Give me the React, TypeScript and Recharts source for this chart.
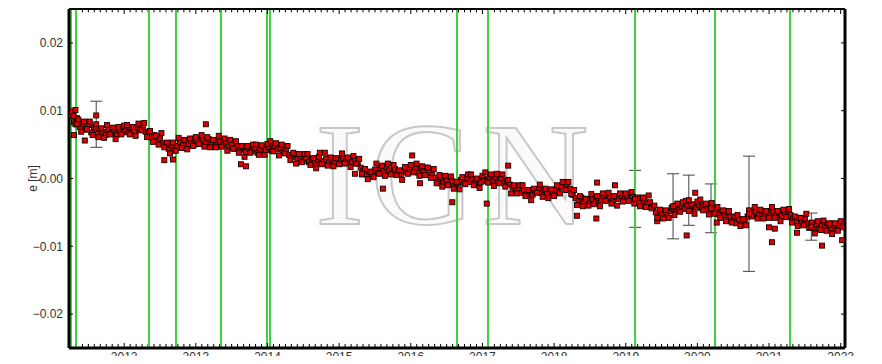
import {
  ErrorBar,
  ReferenceLine,
  Scatter,
  ScatterChart,
  XAxis,
  YAxis,
} from "recharts";

// East component (mm), sampled every 0.04 yr starting at the given epoch
const e2011 = [9.4, 8.3, 8.9, 7.6, 8.1, 7.2, 7.9, 6.8, 7.5, 6.6, 7.3, 6.9, 6.4, 7.2, 6.7, 7.1, 6.5, 7.0, 6.8];
const e2012 = [7.1, 6.8, 7.4, 7.0, 7.6, 7.2, 7.5, 6.9, 6.8, 6.1, 6.4, 5.5, 5.9, 5.2, 5.0, 4.4, 4.9, 4.1, 4.8, 5.4, 4.9, 5.6, 5.1, 5.5, 5.0];
const e2013 = [5.6, 5.1, 5.7, 5.3, 5.8, 5.2, 5.6, 4.9, 5.4, 5.0, 5.5, 4.7, 5.1, 4.4, 4.8, 4.2, 4.6, 3.9, 4.5, 4.0, 4.4, 3.8, 4.3, 4.7, 4.2];
const e2014 = [4.6, 4.1, 4.8, 4.3, 4.5, 3.9, 4.2, 3.5, 3.2, 3.6, 2.9, 3.1, 2.6, 3.0, 2.4, 2.8, 2.3, 2.7, 2.2, 2.6, 2.9, 2.4, 2.8, 2.5, 2.9];
const e2015 = [2.6, 3.0, 2.5, 2.9, 2.4, 2.8, 2.2, 1.6, 1.1, 0.6, 1.0, 0.4, 1.3, 0.8, 1.5, 1.1, 1.6, 1.2, 0.8, 1.4, 1.0, 0.6, 1.2, 0.9, 1.4];
const e2016 = [1.0, 1.4, 0.9, 1.5, 1.1, 1.6, 1.0, 0.5, 0.1, -0.4, 0.2, -0.6, -0.2, -0.9, -0.4, -1.1, -0.7, -0.2, -0.6, 0.0, -0.5, -0.1, -0.6, -0.2, -0.5];
const e2017 = [-0.1, -0.4, 0.2, -0.3, 0.1, -0.4, -0.1, -0.6, -0.3, -0.9, -1.3, -1.8, -1.5, -2.1, -1.7, -2.3, -1.9, -2.4, -2.0, -1.6, -2.1, -1.7, -2.2, -1.8, -2.0];
const e2018 = [-1.7, -2.0, -1.2, -0.6, -0.8, -1.5, -2.4, -2.9, -3.3, -2.8, -3.5, -3.0, -3.6, -3.1, -3.4, -2.9, -3.2, -2.7, -3.1, -2.8, -3.2, -2.7, -3.0, -2.6, -3.1];
const e2019 = [-2.8, -3.2, -2.7, -3.1, -3.4, -2.9, -3.3, -3.7, -3.5, -4.2, -5.0, -5.6, -5.2, -5.8, -5.3, -4.8, -4.5, -4.0, -4.6, -4.1, -4.5, -3.9, -4.4, -4.0, -4.3];
const e2020 = [-3.9, -4.4, -4.0, -4.5, -4.1, -4.6, -4.9, -5.3, -4.8, -5.4, -5.0, -5.7, -6.2, -6.6, -6.0, -6.7, -6.1, -5.6, -5.1, -5.5, -4.9, -5.3, -4.8, -5.2, -4.9];
const e2021 = [-5.3, -4.9, -5.4, -5.0, -5.5, -5.1, -5.6, -5.4, -5.9, -6.3, -5.8, -6.4, -6.0, -6.6, -6.9, -7.3, -6.8, -7.4, -6.9, -7.2, -6.7, -7.3, -6.9, -7.4, -7.0];
const e2022 = [-7.2];

// in-between solutions (mm), same 0.04 yr spacing, shifted by 0.02 yr
const f2011 = [9.8, 8.0, 8.7, 6.9, 8.4, 7.3, 8.4, 6.4, 7.6, 6.1, 7.4, 6.0, 7.9, 6.5, 7.5, 5.8, 7.6, 6.5, 7.8];
const f2012 = [7.9, 6.5, 7.6, 6.3, 8.1, 7.1, 8.2, 6.1, 7.0, 5.4, 6.3, 5.0, 6.7, 4.6, 5.3, 3.7, 5.3, 4.1, 6.0, 4.5, 5.7, 4.3, 5.9, 4.8, 6.1];
const f2013 = [5.1, 6.4, 4.7, 6.1, 4.6, 5.7, 4.6, 6.3, 4.7, 5.9, 4.1, 5.7, 4.4, 5.5, 3.8, 4.8, 3.2, 4.8, 3.8, 5.0, 5.0, 3.5, 4.9, 3.5, 5.1];
const f2014 = [5.5, 4.0, 5.2, 3.4, 5.0, 3.7, 4.8, 2.7, 3.8, 2.2, 3.6, 2.4, 3.6, 3.6, 2.0, 3.0, 1.5, 3.2, 2.1, 3.8, 1.9, 3.1, 1.8, 3.0, 2.1];
const f2015 = [3.7, 2.2, 3.1, 1.7, 3.3, 2.2, 2.9, 0.6, 1.4, -0.1, 1.0, 0.2, 2.2, 0.7, 1.9, 0.4, 2.2, 0.6, 2.0, 0.5, 1.2, -0.2, 1.7, 0.7, 2.0];
const f2016 = [0.9, 2.2, 0.4, 1.8, 0.5, 1.6, 0.1, 1.4, -0.7, 0.5, -1.2, 0.4, -1.0, 0.3, -1.5, -0.5, -1.6, 0.2, -0.8, 0.6, 0.6, -1.0, 0.0, -1.4, 0.4];
const f2017 = [0.9, -0.6, 0.6, -1.1, 0.7, -0.7, 0.6, -1.2, -0.2, -2.2, -1.0, -2.2, -1.0, -1.0, -2.6, -1.7, -3.2, -1.5, -2.1, -0.9, -2.7, -1.5, -2.9, -1.6, -2.6];
const f2018 = [-1.0, -2.2, -0.5, -1.7, -0.5, -2.3, -1.7, -3.9, -2.6, -4.1, -3.0, -4.0, -2.3, -3.8, -2.6, -4.1, -2.2, -3.3, -2.1, -3.7, -2.6, -4.0, -2.2, -3.4, -2.2];
const f2019 = [-3.3, -2.0, -3.7, -2.8, -4.1, -2.8, -4.2, -2.5, -4.4, -4.0, -6.3, -4.6, -5.9, -4.7, -5.8, -4.3, -5.4, -3.7, -4.9, -3.5, -3.3, -4.8, -3.8, -5.2, -3.4];
const f2020 = [-3.1, -4.7, -3.7, -5.3, -3.6, -5.2, -4.2, -5.8, -4.7, -6.3, -4.8, -6.5, -5.6, -5.4, -7.0, -6.0, -6.9, -4.7, -5.6, -4.2, -5.9, -4.6, -5.9, -4.8, -5.8];
const f2021 = [-4.2, -5.8, -4.8, -6.3, -4.6, -5.7, -4.5, -6.5, -5.6, -7.0, -5.8, -6.9, -5.2, -7.3, -6.5, -8.1, -6.3, -7.6, -6.2, -7.7, -6.6, -8.2, -6.6, -7.7, -6.3];

const yearSeries: [number, number[]][] = [
  [2011.26, e2011], [2012.02, e2012], [2013.02, e2013], [2014.02, e2014],
  [2015.02, e2015], [2016.02, e2016], [2017.02, e2017], [2018.02, e2018],
  [2019.02, e2019], [2020.02, e2020], [2021.02, e2021], [2022.02, e2022],
  [2011.28, f2011], [2012.04, f2012], [2013.04, f2013], [2014.04, f2014],
  [2015.04, f2015], [2016.04, f2016], [2017.04, f2017], [2018.04, f2018],
  [2019.04, f2019], [2020.04, f2020], [2021.04, f2021],
];
const STEP = 0.04;

// scattered single solutions (epoch, mm)
const outT = [2011.27, 2011.29, 2011.3, 2011.32, 2011.34, 2011.45, 2011.61, 2012.56, 2012.68, 2013.14, 2013.63, 2013.7, 2014.73, 2015.22, 2015.32, 2015.61, 2016.02, 2016.13, 2016.58, 2017.06, 2017.36, 2018.32, 2018.59, 2018.6, 2018.85, 2019.44, 2019.85, 2019.97, 2020.27, 2021.0, 2021.04, 2021.08, 2021.39, 2021.74, 2022.02];
const outE = [9.9, 9.2, 6.4, 10.1, 8.0, 5.6, 9.3, 2.7, 2.8, 8.0, 2.1, 1.8, 3.8, 0.7, 0.7, -1.5, 3.4, -0.7, -3.5, -3.7, 1.9, -5.5, -5.9, -0.6, -1.0, -5.8, -8.4, -2.1, -6.5, -7.2, -9.4, -7.4, -8.0, -9.9, -9.1];

// solutions with large formal errors (epoch, mm, sigma mm)
const errT = [2011.61, 2019.13, 2019.66, 2019.88, 2020.19, 2020.72, 2021.59];
const errE = [8.0, -3.0, -4.1, -3.2, -4.4, -5.2, -7.1];
const errS = [3.4, 4.2, 4.8, 3.7, 3.6, 8.5, 2.0];

// equipment changes
const offsets = [2011.258, 2011.328, 2012.347, 2012.723, 2013.351, 2013.993, 2014.035, 2016.645, 2017.078, 2019.13, 2020.246, 2021.293];

const yearTicks = [2012, 2013, 2014, 2015, 2016, 2017, 2018, 2019, 2020, 2021, 2022];
const eTicks = [-0.02, -0.01, 0, 0.01, 0.02];

const points = yearSeries.flatMap(([t0, vals]) =>
  vals.map((mm, i) => ({ t: t0 + i * STEP, e: mm / 1000 }))
);
const outliers = outT.map((t, i) => ({ t, e: outE[i] / 1000 }));
const errPoints = errT.map((t, i) => ({ t, e: errE[i] / 1000, err: errS[i] / 1000 }));

const monthTicks: number[] = [];
for (let m = 4; m <= 10 * 12 + 12; m++) {
  const t = 2011 + m / 12;
  if (t > 2022.05) break;
  if (Math.abs(t - Math.round(t)) > 0.01) monthTicks.push(t);
}

const X_DOMAIN = [2011.23, 2022.06];
const Y_DOMAIN = [-0.025, 0.025];
const FONT = "'Liberation Sans', Arial, sans-serif";
const tickStyle = { fontSize: 12, fill: "#333", fontFamily: FONT };

function formatE(v: number): string {
  if (Math.abs(v) < 1e-9) return "0.00";
  return (v < 0 ? "\u2212" : "") + Math.abs(v).toFixed(2);
}

function Square(props: any) {
  const { cx, cy } = props;
  if (cx == null || cy == null) return null;
  return (
    <rect x={cx - 2.5} y={cy - 2.5} width={5} height={5} fill="#e10000" stroke="#140000" strokeWidth={0.9} />
  );
}

export default function App() {
  return (
    <div style={{ position: "relative", width: 866, height: 348 }}>
      <div style={{ position: "absolute", left: -8, top: -8, width: 882, height: 364, overflow: "hidden", background: "#fff" }}>
        <svg width={882} height={364} style={{ position: "absolute", left: 0, top: 0 }}>
          <text
            x={455}
            y={224}
            textAnchor="middle"
            fontFamily="'Liberation Serif', 'DejaVu Serif', serif"
            fontSize={147}
            letterSpacing={6}
            fill="#fafafa"
            stroke="#c8c8c8"
            strokeWidth={2}
          >
            IGN
          </text>
        </svg>
        <div style={{ position: "absolute", left: 0, top: -14 }}>
          <ScatterChart width={882} height={378} margin={{ top: 0, right: 0, bottom: 0, left: 0 }}>
            <XAxis
              xAxisId="b"
              dataKey="t"
              type="number"
              domain={X_DOMAIN}
              allowDataOverflow
              ticks={yearTicks}
              height={16}
              tickSize={-5}
              tickMargin={9}
              tick={tickStyle}
              tickLine={{ stroke: "#000" }}
              axisLine={{ stroke: "#000", strokeWidth: 3 }}
            />
            <XAxis
              xAxisId="t"
              orientation="top"
              dataKey="t"
              type="number"
              domain={X_DOMAIN}
              allowDataOverflow
              ticks={yearTicks}
              height={23}
              tickSize={-5}
              tickMargin={12}
              tick={tickStyle}
              tickLine={{ stroke: "#000" }}
              axisLine={{ stroke: "#000", strokeWidth: 2 }}
            />
            <YAxis
              yAxisId="l"
              dataKey="e"
              type="number"
              domain={Y_DOMAIN}
              allowDataOverflow
              ticks={eTicks}
              width={69}
              tickSize={-4}
              tickMargin={10}
              tickFormatter={formatE}
              tick={tickStyle}
              tickLine={{ stroke: "#000" }}
              axisLine={{ stroke: "#000", strokeWidth: 3 }}
              label={{ value: "e [m]", angle: -90, position: "center", dx: -2, style: { fontSize: 12, fill: "#333", fontFamily: FONT } }}
            />
            <YAxis
              yAxisId="r"
              orientation="right"
              dataKey="e"
              type="number"
              domain={Y_DOMAIN}
              allowDataOverflow
              ticks={eTicks}
              width={37}
              tickSize={-4}
              tickFormatter={() => ""}
              tickLine={{ stroke: "#000" }}
              axisLine={{ stroke: "#000", strokeWidth: 3 }}
            />
            {monthTicks.map((t) => (
              <ReferenceLine
                key={`mb${t}`}
                xAxisId="b"
                yAxisId="l"
                segment={[{ x: t, y: -0.025 }, { x: t, y: -0.0244 }]}
                stroke="#000"
                strokeWidth={1}
              />
            ))}
            {monthTicks.map((t) => (
              <ReferenceLine
                key={`mt${t}`}
                xAxisId="b"
                yAxisId="l"
                segment={[{ x: t, y: 0.025 }, { x: t, y: 0.0245 }]}
                stroke="#000"
                strokeWidth={1}
              />
            ))}
            <Scatter xAxisId="b" yAxisId="l" data={points} shape={Square} isAnimationActive={false} />
            <Scatter xAxisId="b" yAxisId="l" data={outliers} shape={Square} isAnimationActive={false} />
            <Scatter xAxisId="b" yAxisId="l" data={errPoints} shape={Square} isAnimationActive={false}>
              <ErrorBar dataKey="err" direction="y" width={6} stroke="#444" strokeWidth={1} />
            </Scatter>
            {offsets.map((t) => (
              <ReferenceLine key={`o${t}`} xAxisId="b" yAxisId="l" x={t} stroke="#3fcf3f" strokeWidth={2} />
            ))}
          </ScatterChart>
        </div>
      </div>
    </div>
  );
}
